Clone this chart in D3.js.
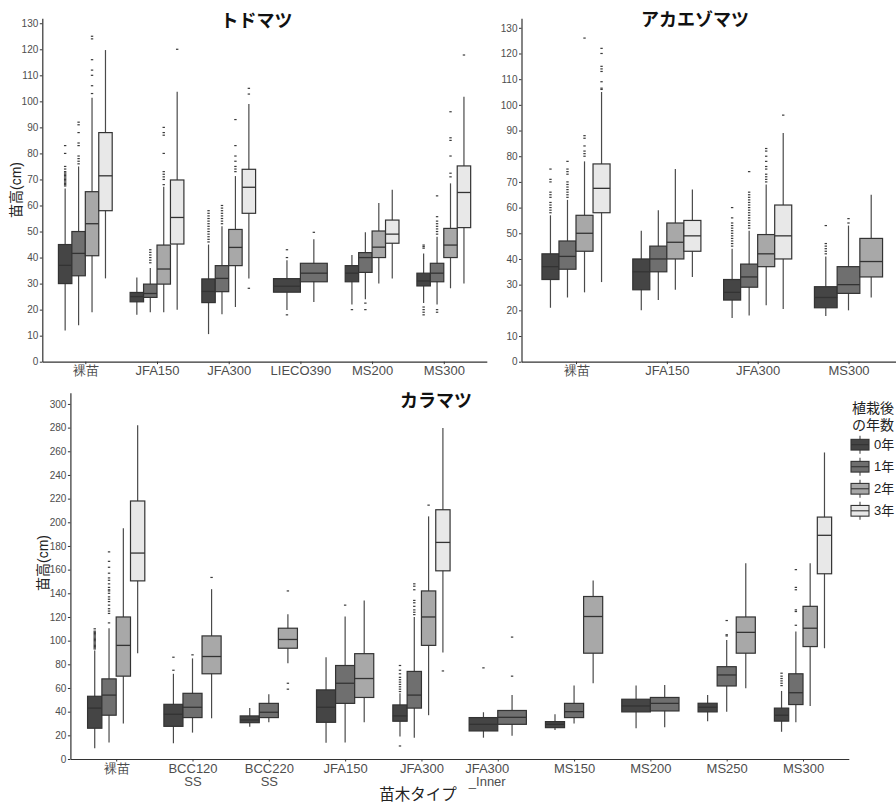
<!DOCTYPE html>
<html><head><meta charset="utf-8">
<script src="https://cdn.jsdelivr.net/npm/d3@7"></script>
<style>
body{margin:0;background:#fff}
svg{display:block;font-family:"Liberation Sans",Arial,"Noto Sans CJK JP",sans-serif}
</style></head><body>
<svg id="chart" width="896" height="805"></svg>
<script>
// Years after planting (legend groups)
const years = ["0年", "1年", "2年", "3年"];

// Box stats per category: [lower whisker, Q1, median, Q3, upper whisker]; null = no data
// ---- トドマツ ----
const todoCats = ["裸苗", "JFA150", "JFA300", "LIECO390", "MS200", "MS300"];
const todoY0 = [[12,30,37,45,66.5],[18,23,25,26.6,32.3],[10.6,22.7,27,31.8,45],[19.9,26.7,29,31.9,39],[22,30.7,34,36.9,41],[22.5,29.1,31,34,41.6]];
const todoY1 = [[14,33,41.6,50,75],[19,24.7,26.2,29.8,36],[18.2,26.9,32,36.9,52],[22.9,30.7,34,37.8,47],[24,34.3,40,41.9,49.7],[22,30.7,34,37.8,48]];
const todoY2 = [[19,40.7,53,65.3,101.4],[19,29.8,35.6,44.8,67.2],[21,36.9,43.9,50.8,71.3],null,[30,40,44,50.2,61],[28.2,40,44.8,51.2,68.5]];
const todoY3 = [[32,58,71.4,88,119.7],[20,45.2,55.4,69.8,103.7],[32,57,67,73.9,99],null,[32,45.5,49,54.4,66],[30,51.5,65,75.2,101.8]];
const todoOut0 = [[67.5,68,68.5,69,69.5,70,70.5,71,71.5,72,72.5,73,74,75,80,83],[],[46,47,48,49,50,51,52,53,54,55,56,57,58],[40,43,18],[20],[43.6,44.2,44.8,21,20,19,18]];
const todoOut1 = [[76,77,78,79,83,84,88,91,92],[38,39,40,41,42,43],[53,54,55,56,57,58,59,60],[49.7],[22.5,20],[49,50,51,52,53,54,55.7,63.7,20,19]];
const todoOut2 = [[103,106,110,112,116,124,125],[68,70,71,72,73,80,87,88,90],[73,74,75,77,79,83,93],[],[],[71,72.4,79,85,86,96]];
const todoOut3 = [[],[120],[105,102.8,28.2],[],[],[117.8]];

// ---- アカエゾマツ ----
const akaCats = ["裸苗", "JFA150", "JFA300", "MS300"];
const akaY0 = [[21,32,37,42,57],[20,28,35,40,51],[17,24,27,32,44],[17.8,21,25,29.2,41]];
const akaY1 = [[25,36,41,47,63],[24,35,40,45,59],[18,29,33,38,51],[20,26.6,30,37,53]];
const akaY2 = [[27,43,50,57,78],[28,40,46.5,54,75],[22,37,42,49.5,69],[25,33,39,48,65]];
const akaY3 = [[31,58,67.5,77,105],[33,43,49,55,67],[20.5,40,49,61,89],null];
const akaOut0 = [[58,59,60,61,62,64,65,66,70,71,75],[],[45,46,47,48,49,50,51,52,53,54,56,60],[42,43,44,45,46,53]];
const akaOut1 = [[64,65,66,67,68,69,70,73,74,75,78],[],[52,53,54,55,56,57,58,59,60,61,62,63,64,65,66,74],[54,55.7]];
const akaOut2 = [[80,81,82,84,87,88,126],[],[70,71,72,73,75,76,78,80,82,83],[]];
const akaOut3 = [[106,106.5,109,113,114,115,120,122],[],[96],[]];

// ---- カラマツ ----
const karaCats = ["裸苗", "BCC120\nSS", "BCC220\nSS", "JFA150", "JFA300", "JFA300\n_Inner", "MS150", "MS200", "MS250", "MS300"];
const karaY0 = [[9,26,43,53,91.6],[13.3,27.6,37.8,46.2,72],[27.3,30.7,33,36.4,43],[13.8,31,43.7,58.4,86],[19,31.9,36.4,45.7,55.5],[18,23.7,29.3,35,39.5],[24.5,26.5,29.3,31.6,37.8],[26,39.8,44.8,50.5,62],[32,39.8,43.7,47.1,54],[23,32,37,43,57.5]];
const karaY1 = [[14,37,54,67.7,110.5],[22.3,35,43.7,55.5,85],[31,35,39.5,47,54.7],[14,47,64,79,120.4],[18,43,54,74,120],[19.7,29.3,35.2,41,54],[30,35,40,47,62],[26.8,40.6,47,52,62.6],[40,61.7,71,78,100.6],[31,46,56,72,107.7]];
const karaY2 = [[30,70,96,120,195],[34.4,72,86.6,104,143.5],[81,93.6,101,110.5,122.4],[31,52,68,89,134],[37,96,120,142,205],null,[64,89.4,120.4,137.3,150.8],null,[59.8,89.4,107,120,165.5],[44.8,95,110.5,129,165.5]];
const karaY3 = [[89.4,150.5,174,218,282],null,null,null,[90,159,183,210.6,279.7],null,null,null,null,[93.6,156.5,189,204.4,259]];
const karaOut0 = [[93,94,95,96,97,98,99,100,101,102,103,104,105,106,107,108,110],[75,86],[],[],[57,59,61,63,65,67,69,72,75,79,11],[77],[],[],[],[62,64,66,68,70,72.5]];
const karaOut1 = [[115,123,125,127,130,133,135,137,140,142,143,145,148,151,153,157,162,167,175],[88],[],[130],[122,124,126,129,132,134,143,146,148],[70,103],[],[],[104,105,117],[113,124.6,126,143,145,160]];
const karaOut2 = [[],[153.4],[142,64,59],[],[214.5],[],[],[],[],[]];
const karaOut3 = [[],[],[],[],[74.4],[],[],[],[],[]];

// Axis tick values
const ticksSmall = [0,10,20,30,40,50,60,70,80,90,100,110,120,130];
const ticksLarge = [0,20,40,60,80,100,120,140,160,180,200,220,240,260,280,300];

const fills = ["#454545", "#6f6f6f", "#a8a8a8", "#e8e8e8"];
const lineCol = "#333333";
const tickCol = "#4d4d4d";

const svg = d3.select("#chart");
svg.append("rect").attr("width", 896).attr("height", 805).attr("fill", "#fff");

function drawPanel(p) {
  const g = svg.append("g");
  const x = d3.scalePoint().domain(p.cats).range(p.xRange).padding(0.6);
  const y = d3.scaleLinear().domain([0, p.yMax]).range(p.yRange);
  const step = x.step();
  const series = [p.s0, p.s1, p.s2, p.s3];
  const outs = [p.o0, p.o1, p.o2, p.o3];

  p.cats.forEach((c, ci) => {
    const present = years.filter((yr, yi) => series[yi][ci]);
    const inner = d3.scaleBand().domain(present).range([-0.375 * step, 0.375 * step]).padding(0);
    const bw = inner.bandwidth();
    present.forEach(yr => {
      const yi = years.indexOf(yr);
      const [lo, q1, md, q3, hi] = series[yi][ci];
      const x0 = x(c) + inner(yr);
      const xc = x0 + bw / 2;
      // whisker
      g.append("line").attr("x1", xc).attr("x2", xc).attr("y1", y(lo)).attr("y2", y(hi))
        .attr("stroke", "#4a4a4a").attr("stroke-width", 1.2);
      // box
      g.append("rect").attr("x", x0).attr("width", bw).attr("y", y(q3)).attr("height", y(q1) - y(q3))
        .attr("fill", fills[yi]).attr("stroke", lineCol).attr("stroke-width", 1.2);
      // median
      g.append("line").attr("x1", x0).attr("x2", x0 + bw).attr("y1", y(md)).attr("y2", y(md))
        .attr("stroke", lineCol).attr("stroke-width", 1.3);
      // outliers
      (outs[yi][ci] || []).forEach(v => {
        g.append("rect").attr("x", xc - 1.2).attr("y", y(v) - 0.6).attr("width", 2.4).attr("height", 1.2)
          .attr("fill", "#3a3a3a");
      });
    });
  });

  // y axis
  const ya = g.append("g").attr("transform", `translate(${p.xRange[0]},0)`)
    .call(d3.axisLeft(y).tickValues(p.ticks).tickSize(2.5).tickSizeOuter(0).tickPadding(1.5));
  ya.select(".domain").attr("stroke", lineCol).attr("stroke-width", 1.2);
  ya.selectAll(".tick line").attr("stroke", lineCol);
  ya.selectAll(".tick text").attr("fill", tickCol).attr("font-size", 10);

  // x axis
  const xa = g.append("g").attr("transform", `translate(0,${p.yRange[0]})`)
    .call(d3.axisBottom(x).tickSize(2.5).tickSizeOuter(0).tickPadding(2));
  xa.select(".domain").attr("stroke", lineCol).attr("stroke-width", 1.2);
  xa.selectAll(".tick line").attr("stroke", lineCol);
  xa.selectAll(".tick text").attr("fill", tickCol).attr("font-size", 13)
    .each(function (d) {
      const t = d3.select(this);
      const lines = d.split("\n");
      t.text(null);
      const dx = lines.length > 1 && lines[1].startsWith("_") ? -11 : 0;
      lines.forEach((ln, i) => {
        t.append("tspan").attr("x", dx).attr("dy", i === 0 ? "0.71em" : "1.0em").text(ln);
      });
    })
    .attr("dy", null);

  // title
  g.append("text").attr("x", p.titleX).attr("y", p.titleY).attr("text-anchor", "middle")
    .attr("font-size", 18).attr("font-weight", "bold").attr("fill", "#111").text(p.title);

  if (p.yTitle) {
    g.append("text").attr("transform", `translate(${p.yTitle[0]},${p.yTitle[1]}) rotate(-90)`)
      .attr("text-anchor", "middle").attr("dy", "0.35em").attr("font-size", 14).attr("fill", "#222")
      .text("苗高(cm)");
  }
}

drawPanel({
  cats: todoCats, s0: todoY0, s1: todoY1, s2: todoY2, s3: todoY3,
  o0: todoOut0, o1: todoOut1, o2: todoOut2, o3: todoOut3,
  xRange: [42.3, 486.8], yRange: [361.7, 18.3], yMax: 131.9, ticks: ticksSmall,
  title: "トドマツ", titleX: 256.5, titleY: 26.5, yTitle: [16, 190]
});

drawPanel({
  cats: akaCats, s0: akaY0, s1: akaY1, s2: akaY2, s3: akaY3,
  o0: akaOut0, o1: akaOut1, o2: akaOut2, o3: akaOut3,
  xRange: [521.5, 903], yRange: [361.7, 18.3], yMax: 133.7, ticks: ticksSmall,
  title: "アカエゾマツ", titleX: 695, titleY: 26
});

drawPanel({
  cats: karaCats, s0: karaY0, s1: karaY1, s2: karaY2, s3: karaY3,
  o0: karaOut0, o1: karaOut1, o2: karaOut2, o3: karaOut3,
  xRange: [70.4, 848.8], yRange: [759, 392.7], yMax: 309.5, ticks: ticksLarge,
  title: "カラマツ", titleX: 436, titleY: 407, yTitle: [43, 563]
});

// x axis title
svg.append("text").attr("x", 418).attr("y", 800).attr("text-anchor", "middle")
  .attr("font-size", 15.5).attr("fill", "#222").text("苗木タイプ");

// legend
const lg = svg.append("g");
lg.append("text").attr("x", 852).attr("y", 413).attr("font-size", 14).attr("fill", "#222").text("植栽後");
lg.append("text").attr("x", 852).attr("y", 430).attr("font-size", 14).attr("fill", "#222").text("の年数");
const ly = d3.scalePoint().domain(years).range([444.7, 510.8]);
years.forEach((yr, i) => {
  const cy = ly(yr);
  const kx = 851, kw = 18, kh = 10.7;
  lg.append("line").attr("x1", kx + kw / 2).attr("x2", kx + kw / 2).attr("y1", cy - 9).attr("y2", cy + 9)
    .attr("stroke", "#4a4a4a").attr("stroke-width", 1.1);
  lg.append("rect").attr("x", kx).attr("y", cy - kh / 2).attr("width", kw).attr("height", kh)
    .attr("fill", fills[i]).attr("stroke", lineCol).attr("stroke-width", 1.1);
  lg.append("line").attr("x1", kx).attr("x2", kx + kw).attr("y1", cy).attr("y2", cy)
    .attr("stroke", lineCol).attr("stroke-width", 1.1);
  lg.append("text").attr("x", 874).attr("y", cy).attr("dy", "0.36em").attr("font-size", 13)
    .attr("fill", "#222").text(yr);
});
</script>
</body></html>
